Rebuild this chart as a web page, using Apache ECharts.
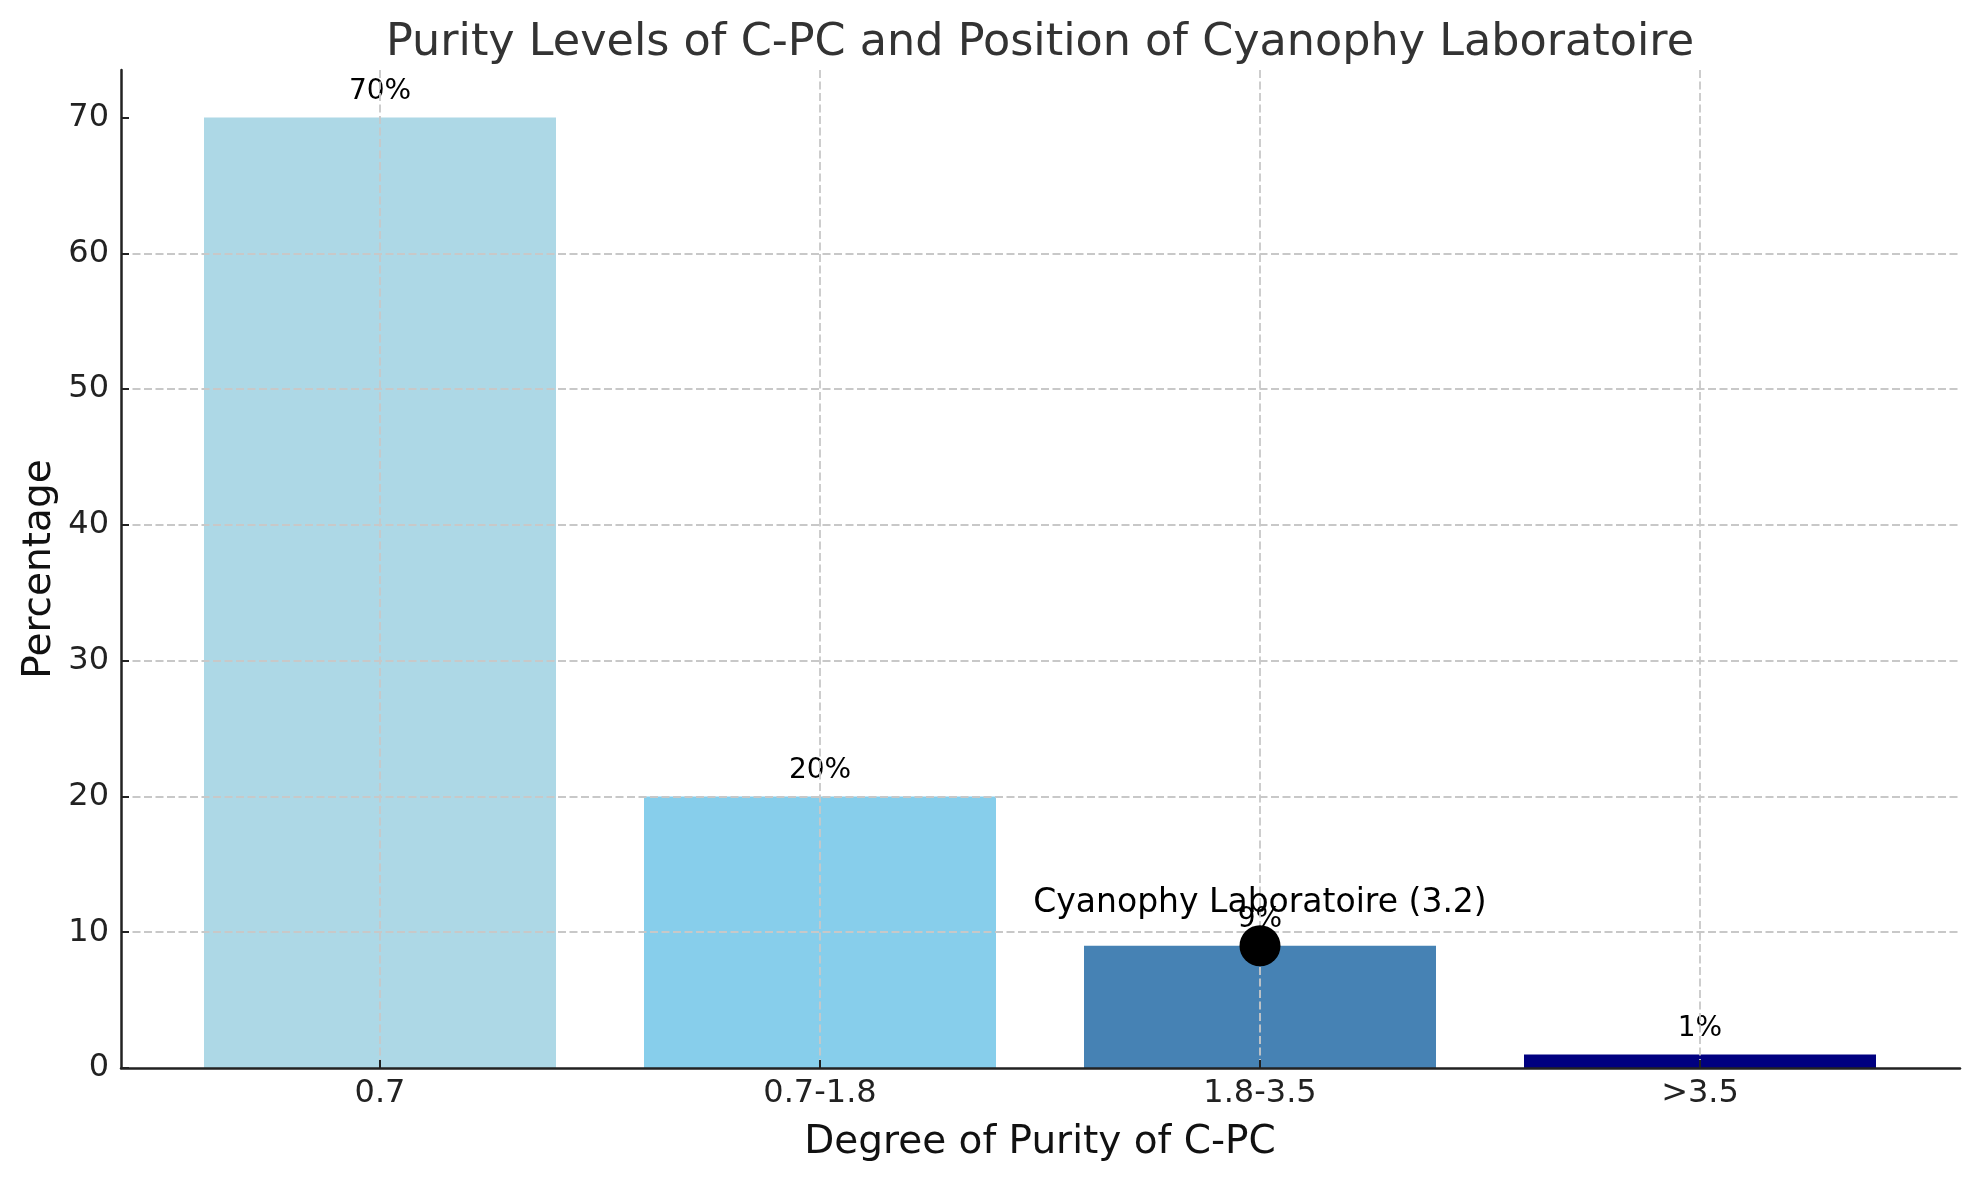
<!DOCTYPE html>
<html>
<head>
<meta charset="utf-8">
<script src="https://cdn.jsdelivr.net/npm/echarts@6/dist/echarts.min.js"></script>
<style>
html,body{margin:0;padding:0;background:#fff;}
#chart{width:1979px;height:1180px;}
</style>
</head>
<body>
<div id="chart"></div>
<script>
// ---- data ----
const categories = ['0.7', '0.7-1.8', '1.8-3.5', '>3.5'];
const percentages = [70, 20, 9, 1];
const yTicks = [0, 10, 20, 30, 40, 50, 60, 70];
const yMax = 73.5;
const cyanophyCategoryIndex = 2;
const cyanophyValue = 9;
const cyanophyLabel = 'Cyanophy Laboratoire (3.2)';
const titleText = 'Purity Levels of C-PC and Position of Cyanophy Laboratoire';
const xName = 'Degree of Purity of C-PC';
const yName = 'Percentage';

// ---- styles ----
const barColors = ['#ADD8E6', '#87CEEB', '#4682B4', '#000080'];
const FONT = 'DejaVu Sans';
const gridLine = { color: '#c8c8c8', width: 1.8, type: [8, 3.5] };
const spine = { color: '#222', width: 2.5 };

const chart = echarts.init(document.getElementById('chart'), null, { renderer: 'canvas' });

const option = {
  animation: false,
  backgroundColor: '#fff',
  title: {
    text: titleText,
    left: 1040,
    top: 21,
    padding: 0,
    textAlign: 'center',
    textStyle: { fontFamily: FONT, fontSize: 44.5, fontWeight: 'normal', color: '#333' }
  },
  grid: [
    { left: 121, right: 19, top: 70, bottom: 112 },
    { left: 380, right: 279, top: 70, bottom: 112 }
  ],
  xAxis: [
    {
      gridIndex: 0, type: 'value', min: 0, max: 1, z: 3,
      axisLine: { show: true, lineStyle: spine },
      axisTick: { show: false }, axisLabel: { show: false }, splitLine: { show: false }
    },
    {
      gridIndex: 1, type: 'category', data: categories, boundaryGap: false, z: 3,
      axisLine: { show: false },
      axisTick: { show: true, inside: true, length: 8, lineStyle: { color: '#222', width: 2 } },
      axisLabel: { margin: 10, fontFamily: FONT, fontSize: 32, color: '#222' },
      splitLine: { show: true, lineStyle: gridLine },
      name: xName, nameLocation: 'middle', nameGap: 55,
      nameTextStyle: { fontFamily: FONT, fontSize: 39, color: '#111' }
    }
  ],
  yAxis: [
    {
      gridIndex: 0, type: 'value', min: 0, max: yMax, interval: 10, z: 3,
      axisLine: { show: true, lineStyle: spine },
      axisTick: { show: true, inside: true, length: 8, customValues: yTicks, lineStyle: { color: '#222', width: 2 } },
      axisLabel: { margin: 12, customValues: yTicks, fontFamily: FONT, fontSize: 32, color: '#222' },
      splitLine: { show: true, showMinLine: false, showMaxLine: false, lineStyle: gridLine },
      name: yName, nameLocation: 'middle', nameGap: 62, nameMoveOverlap: false,
      nameTextStyle: { fontFamily: FONT, fontSize: 39, color: '#111' }
    },
    {
      gridIndex: 1, type: 'value', min: 0, max: yMax, show: false
    }
  ],
  series: [
    {
      type: 'bar',
      xAxisIndex: 1, yAxisIndex: 1,
      barWidth: '80%',
      clip: false,
      z: 2,
      data: percentages.map((v, i) => ({ value: v, itemStyle: { color: barColors[i] } })),
      label: {
        show: true, position: 'top', distance: 12,
        formatter: p => p.value + '%',
        fontFamily: FONT, fontSize: 28, color: '#000'
      }
    },
    {
      type: 'scatter',
      xAxisIndex: 1, yAxisIndex: 1,
      z: 10,
      symbol: 'circle',
      symbolSize: 41,
      itemStyle: { color: '#000', opacity: 1 },
      data: [[cyanophyCategoryIndex, cyanophyValue]],
      label: {
        show: true, position: 'top', distance: 5,
        formatter: () => cyanophyLabel,
        fontFamily: FONT, fontSize: 33, color: '#000'
      }
    }
  ]
};
chart.setOption(option);
</script>
</body>
</html>
